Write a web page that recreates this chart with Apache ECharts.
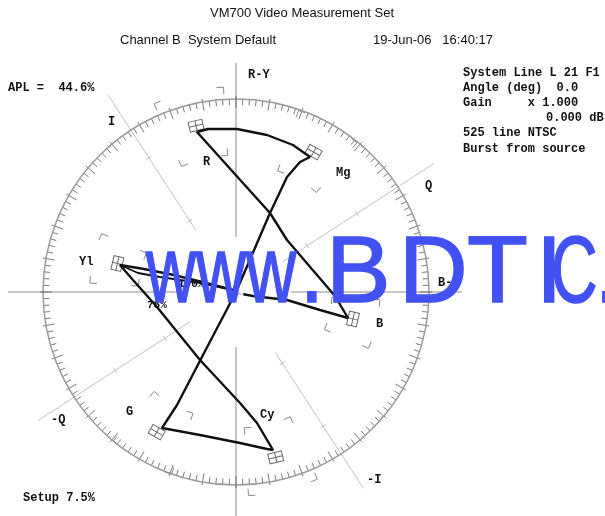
<!DOCTYPE html>
<html>
<head>
<meta charset="utf-8">
<script src="https://cdn.jsdelivr.net/npm/echarts@6/dist/echarts.min.js"></script>
<style>
  html, body { margin: 0; background: #fff; }
  #chart { width: 605px; height: 516px; }
</style>
</head>
<body>
<div id="chart"></div>
<script>
// 75% colour bar targets: magnitude (scope units = px from centre) and phase (deg)
var targetNames = ['R', 'Mg', 'B', 'Cy', 'G', 'Yl'];
var targetMag = [171, 160, 120, 170, 161, 122];
var targetPhase = [103.5, 61, 347, 283.5, 240.5, 166.5];

// graticule axes: angle, where the line starts and ends (scope units)
var axisAngle = [90, 0, 270, 180, 123, 33, 303, 213];
var axisInner = [55, 55, 55, 55, 74, 56, 72, 55];
var axisOuter = [229, 226, 232, 228, 235, 236, 234, 236];
// small marks on the I / Q lines
var iqTickAngle = [123, 123, 303, 303, 33, 33, 213, 213];
var iqTickR = [85, 160, 85, 160, 85, 144, 85, 144];

// vector trace, x = B-Y, y = R-Y
var tracePath = [
  [1, 1], [-30, 9], [-62, 17], [-92, 23], [-116, 27],
  [-103, 12], [-79, -15], [-36, -68], [4, -111], [21, -131], [37, -158],
  [31, -157], [4, -151], [-36, -143], [-74, -136],
  [-59, -113], [-46, -88], [-33, -63], [0, 0], [34, 79], [51, 115], [64, 130], [74, 135],
  [57, 147], [31, 157], [1, 163], [-28, 163], [-39, 160],
  [-3, 120], [34, 79], [51, 52], [99, -4], [112, -26],
  [84, -18], [51, -8], [17, -4], [1, -1]
];
var traceReturn = [[-116, 27], [-98, 19], [-76, 15], [-36, 9], [-3, 2]];

function polarToXY(r, deg) {
  var a = deg * Math.PI / 180;
  return [r * Math.cos(a), r * Math.sin(a)];
}

var axisLines = axisAngle.map(function (a, i) {
  var main = i < 4;
  return {
    coords: [polarToXY(axisInner[i], a), polarToXY(axisOuter[i], a)],
    lineStyle: { color: main ? '#6a6a6a' : '#858585', width: main ? 1.5 : 1 }
  };
});
var iqTicks = iqTickAngle.map(function (a, i) {
  var c = polarToXY(iqTickR[i], a);
  var p = polarToXY(3, a + 90);
  return { coords: [[c[0] - p[0], c[1] - p[1]], [c[0] + p[0], c[1] + p[1]]] };
});
var targetData = targetMag.map(function (m, i) { return [m, targetPhase[i]]; });

function renderTargetBox(params, api) {
  var m = api.value(0), ph = api.value(1);
  var c = api.coord(polarToXY(m, ph));
  var w = 14, h = 10, st = { stroke: '#6a6a6a', lineWidth: 1, fill: 'transparent' };
  return {
    type: 'group', x: c[0], y: c[1], rotation: (ph - 90) * Math.PI / 180,
    children: [
      { type: 'rect', shape: { x: -w / 2, y: -h / 2, width: w, height: h }, style: st },
      { type: 'line', shape: { x1: -w / 2, y1: 0, x2: w / 2, y2: 0 }, style: st },
      { type: 'line', shape: { x1: 0, y1: -h / 2, x2: 0, y2: h / 2 }, style: st }
    ]
  };
}

function renderBrackets(params, api) {
  var m = api.value(0), ph = api.value(1);
  var arm = 7, children = [];
  [0.8, 1.2].forEach(function (k) {
    [-10, 10].forEach(function (d) {
      var a = ph + d, rad = a * Math.PI / 180;
      var corner = polarToXY(m * k, a);
      var rs = k < 1 ? 1 : -1, ts = d < 0 ? 1 : -1;
      var pR = [corner[0] + rs * arm * Math.cos(rad), corner[1] + rs * arm * Math.sin(rad)];
      var pT = [corner[0] - ts * arm * Math.sin(rad), corner[1] + ts * arm * Math.cos(rad)];
      children.push({
        type: 'polyline',
        shape: { points: [api.coord(pR), api.coord(corner), api.coord(pT)] },
        style: { stroke: '#8a8a8a', lineWidth: 1, fill: null }
      });
    });
  });
  return { type: 'group', children: children };
}

var mono = 'bold 12px "Liberation Mono"';
var sans = '13px "Liberation Sans"';
function txt(s, x, y, font, align) {
  return {
    type: 'text', x: x, y: y, z: 20,
    style: { text: s, font: font || mono, fill: '#111', textAlign: align || 'left', textVerticalAlign: 'middle' }
  };
}

// watermark, one glyph at a time
var wmChars = ['w', 'w', 'w', '.', 'B', 'D', 'T', 'I', 'C', '.'];
var wmX = [146, 196, 246, 300, 326, 399, 467, 536, 551, 595];
var wmScale = [0.73, 0.73, 0.73, 0.9, 1.02, 1, 1.05, 1, 0.68, 0.9];
var watermark = wmChars.map(function (ch, i) {
  return {
    type: 'text', x: wmX[i], y: 323, z: 100, scaleX: wmScale[i],
    style: {
      text: ch, font: '95px "Liberation Sans"', fill: '#4252f2',
      stroke: '#4252f2', lineWidth: 1.5, textAlign: 'left', textVerticalAlign: 'bottom'
    }
  };
});

var chart = echarts.init(document.getElementById('chart'));
chart.setOption({
  animation: false,
  grid: { left: 0, top: 0, right: 0, bottom: 0 },
  xAxis: { type: 'value', min: -236, max: 369, show: false },
  yAxis: { type: 'value', min: -224, max: 292, show: false },
  polar: [
    { center: [236, 292], radius: 193 },
    { center: [236, 292], radius: 196 }
  ],
  angleAxis: [
    {
      polarIndex: 0, type: 'value', min: 0, max: 360, interval: 10, startAngle: 0, clockwise: false,
      axisLine: { lineStyle: { color: '#9a9a9a', width: 1.5 } },
      axisTick: { inside: true, length: 9, lineStyle: { color: '#7a7a7a', width: 1 } },
      minorTick: { show: true, splitNumber: 5, length: 6, lineStyle: { color: '#7a7a7a', width: 1 } },
      axisLabel: { show: false }, splitLine: { show: false }
    },
    {
      polarIndex: 1, type: 'value', min: 0, max: 360, interval: 10, startAngle: 0, clockwise: false,
      axisLine: { show: false },
      axisTick: { inside: true, length: 4, lineStyle: { color: '#7a7a7a', width: 1 } },
      axisLabel: { show: false }, splitLine: { show: false }
    }
  ],
  radiusAxis: [
    { polarIndex: 0, min: 0, max: 193, show: false },
    { polarIndex: 1, min: 0, max: 196, show: false }
  ],
  series: [
    {
      type: 'lines', coordinateSystem: 'cartesian2d', polyline: false, silent: true,
      data: axisLines, z: 2
    },
    {
      type: 'lines', coordinateSystem: 'cartesian2d', silent: true,
      lineStyle: { color: '#858585', width: 1 }, data: iqTicks, z: 2
    },
    {
      type: 'custom', coordinateSystem: 'cartesian2d', renderItem: renderBrackets,
      data: targetData, clip: false, silent: true, z: 3
    },
    {
      type: 'custom', coordinateSystem: 'cartesian2d', renderItem: renderTargetBox,
      data: targetData, clip: false, silent: true, z: 3
    },
    {
      type: 'line', data: tracePath, showSymbol: false, silent: true, z: 5,
      lineStyle: { color: '#111', width: 2.4 }
    },
    {
      type: 'line', data: traceReturn, showSymbol: false, silent: true, z: 5,
      lineStyle: { color: '#111', width: 1.8 }
    },
    {
      type: 'scatter', data: [[2, -2]], symbol: 'emptyCircle', symbolSize: 9, silent: true, z: 6,
      itemStyle: { color: '#fff', borderColor: '#111', borderWidth: 1.5 }
    }
  ],
  graphic: [
    txt('VM700 Video Measurement Set', 302, 13, sans, 'center'),
    txt('Channel B  System Default', 120, 40, sans),
    txt('19-Jun-06   16:40:17', 373, 40, sans),
    txt('APL =  44.6%', 8, 88),
    txt('System Line L 21 F1', 463, 73),
    txt('Angle (deg)  0.0', 463, 88),
    txt('Gain     x 1.000', 463, 103),
    txt('0.000 dB', 546, 118),
    txt('525 line NTSC', 463, 133),
    txt('Burst from source', 463, 149),
    txt('Setup 7.5%', 23, 498),
    txt('R-Y', 248, 75),
    txt('B-Y', 438, 283),
    txt('I', 108, 122),
    txt('Q', 425, 186),
    txt('-I', 367, 480),
    txt('-Q', 51, 420),
    txt(targetNames[0], 203, 162),
    txt(targetNames[1], 336, 173),
    txt(targetNames[2], 376, 324),
    txt(targetNames[3], 260, 415),
    txt(targetNames[4], 126, 412),
    txt(targetNames[5], 79, 262),
    txt('75%', 147, 305, 'bold 11px "Liberation Mono"'),
    txt('100%', 178, 284, 'bold 11px "Liberation Mono"')
  ].concat(watermark)
});
</script>
</body>
</html>
